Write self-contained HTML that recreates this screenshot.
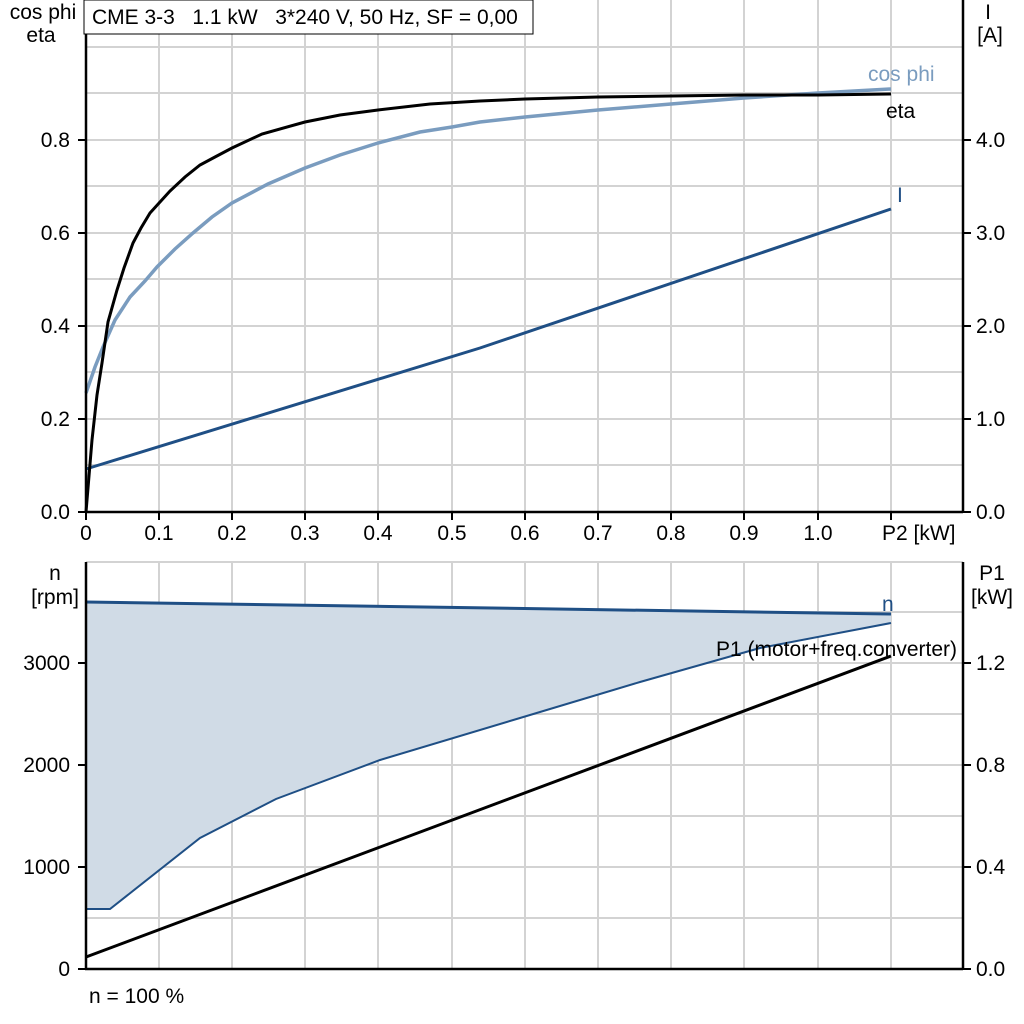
<!DOCTYPE html>
<html><head><style>
body{margin:0;background:#fff}
svg{display:block;font-family:"Liberation Sans",Arial,sans-serif}
</style></head><body>
<svg width="1024" height="1024" viewBox="0 0 1024 1024" xmlns="http://www.w3.org/2000/svg">
<rect width="1024" height="1024" fill="#fff"/>
<g stroke="#d3d3d3" stroke-width="2">
<line x1="159" y1="0" x2="159" y2="512"/><line x1="232" y1="0" x2="232" y2="512"/><line x1="305" y1="0" x2="305" y2="512"/><line x1="378" y1="0" x2="378" y2="512"/><line x1="452" y1="0" x2="452" y2="512"/><line x1="525" y1="0" x2="525" y2="512"/><line x1="598" y1="0" x2="598" y2="512"/><line x1="671" y1="0" x2="671" y2="512"/><line x1="744" y1="0" x2="744" y2="512"/><line x1="818" y1="0" x2="818" y2="512"/><line x1="891" y1="0" x2="891" y2="512"/>
<line x1="86" y1="47" x2="963" y2="47"/><line x1="86" y1="93" x2="963" y2="93"/><line x1="86" y1="140" x2="963" y2="140"/><line x1="86" y1="186" x2="963" y2="186"/><line x1="86" y1="233" x2="963" y2="233"/><line x1="86" y1="279" x2="963" y2="279"/><line x1="86" y1="326" x2="963" y2="326"/><line x1="86" y1="372" x2="963" y2="372"/><line x1="86" y1="419" x2="963" y2="419"/><line x1="86" y1="465" x2="963" y2="465"/>
</g>
<g stroke="#d3d3d3" stroke-width="2">
<line x1="86" y1="562" x2="963" y2="562"/>
<line x1="159" y1="562" x2="159" y2="969"/><line x1="232" y1="562" x2="232" y2="969"/><line x1="305" y1="562" x2="305" y2="969"/><line x1="378" y1="562" x2="378" y2="969"/><line x1="452" y1="562" x2="452" y2="969"/><line x1="525" y1="562" x2="525" y2="969"/><line x1="598" y1="562" x2="598" y2="969"/><line x1="671" y1="562" x2="671" y2="969"/><line x1="744" y1="562" x2="744" y2="969"/><line x1="818" y1="562" x2="818" y2="969"/><line x1="891" y1="562" x2="891" y2="969"/>
<line x1="86" y1="918" x2="963" y2="918"/><line x1="86" y1="867" x2="963" y2="867"/><line x1="86" y1="816" x2="963" y2="816"/><line x1="86" y1="765" x2="963" y2="765"/><line x1="86" y1="714" x2="963" y2="714"/><line x1="86" y1="663" x2="963" y2="663"/><line x1="86" y1="612" x2="963" y2="612"/>
</g>
<polygon points="86,602 891,614 891,623 760,648 640,682 520,718 380,760 276,799 200,838 110,909 86,909" fill="#d0dbe6"/>
<polyline points="86,909 110,909 200,838 276,799 380,760 520,718 640,682 760,648 891,623" fill="none" stroke="#1f4f85" stroke-width="2"/>
<line x1="86" y1="602" x2="891" y2="614" stroke="#1f4f85" stroke-width="3"/>
<line x1="86" y1="957" x2="891" y2="656" stroke="#000" stroke-width="3"/>
<polyline fill="none" stroke="#1f4f85" stroke-width="3" points="86,469 480,348 891,209"/>
<polyline fill="none" stroke="#7a9cbf" stroke-width="3.5" points="86,393 95,367 103,347 115,320 130,297 145,281 157,267 175,249 193,233 212,217 232,203 268,184 305,168 340,155 378,143 420,132 452,127 480,122 525,117 598,110 671,104 744,98 818,93 891,89"/>
<polyline fill="none" stroke="#000" stroke-width="3" points="86,512 92,440 97,395 102,363 108,322 117,290 124,268 133,243 141,228 150,213 160,202 170,191 185,177 200,165 215,157 232,148 262,134 305,122 340,115 378,110 430,104 480,101 525,99 598,97 671,96 744,95 818,95 891,94"/>
<g stroke="#000" stroke-width="2.5" fill="none">
<line x1="86" y1="0" x2="86" y2="513"/><line x1="85" y1="512" x2="963" y2="512"/><line x1="963" y1="0" x2="963" y2="513"/>
<line x1="86" y1="562" x2="86" y2="970"/><line x1="85" y1="969" x2="963" y2="969"/><line x1="963" y1="562" x2="963" y2="970"/>
</g>
<g stroke="#000" stroke-width="2">
<line x1="78" y1="512" x2="86" y2="512"/><line x1="78" y1="419" x2="86" y2="419"/><line x1="78" y1="326" x2="86" y2="326"/><line x1="78" y1="233" x2="86" y2="233"/><line x1="78" y1="140" x2="86" y2="140"/>
<line x1="963" y1="512" x2="971" y2="512"/><line x1="963" y1="419" x2="971" y2="419"/><line x1="963" y1="326" x2="971" y2="326"/><line x1="963" y1="233" x2="971" y2="233"/><line x1="963" y1="140" x2="971" y2="140"/>
<line x1="86" y1="512" x2="86" y2="520"/><line x1="159" y1="512" x2="159" y2="520"/><line x1="232" y1="512" x2="232" y2="520"/><line x1="305" y1="512" x2="305" y2="520"/><line x1="378" y1="512" x2="378" y2="520"/><line x1="452" y1="512" x2="452" y2="520"/><line x1="525" y1="512" x2="525" y2="520"/><line x1="598" y1="512" x2="598" y2="520"/><line x1="671" y1="512" x2="671" y2="520"/><line x1="744" y1="512" x2="744" y2="520"/><line x1="818" y1="512" x2="818" y2="520"/><line x1="891" y1="512" x2="891" y2="520"/>
<line x1="78" y1="969" x2="86" y2="969"/><line x1="78" y1="867" x2="86" y2="867"/><line x1="78" y1="765" x2="86" y2="765"/><line x1="78" y1="663" x2="86" y2="663"/>
<line x1="963" y1="969" x2="971" y2="969"/><line x1="963" y1="867" x2="971" y2="867"/><line x1="963" y1="765" x2="971" y2="765"/><line x1="963" y1="663" x2="971" y2="663"/>
</g>
<rect x="84" y="0" width="449" height="34" fill="#fff" stroke="#000" stroke-width="1"/>
<text x="92" y="24" font-size="21" xml:space="preserve" style="white-space:pre">CME 3-3   1.1 kW   3*240 V, 50 Hz, SF = 0,00</text>
<g font-size="21" fill="#000">
<text x="43" y="19" text-anchor="middle">cos phi</text><text x="41" y="42" text-anchor="middle">eta</text>
<text x="70" y="147" text-anchor="end">0.8</text><text x="70" y="240" text-anchor="end">0.6</text><text x="70" y="333" text-anchor="end">0.4</text><text x="70" y="426" text-anchor="end">0.2</text><text x="70" y="519" text-anchor="end">0.0</text>
<text x="988" y="19" text-anchor="middle">I</text><text x="990" y="42" text-anchor="middle">[A]</text>
<text x="976" y="147">4.0</text><text x="976" y="240">3.0</text><text x="976" y="333">2.0</text><text x="976" y="426">1.0</text><text x="976" y="519">0.0</text>
<text x="86" y="540" text-anchor="middle">0</text><text x="159" y="540" text-anchor="middle">0.1</text><text x="232" y="540" text-anchor="middle">0.2</text><text x="305" y="540" text-anchor="middle">0.3</text><text x="378" y="540" text-anchor="middle">0.4</text><text x="452" y="540" text-anchor="middle">0.5</text><text x="525" y="540" text-anchor="middle">0.6</text><text x="598" y="540" text-anchor="middle">0.7</text><text x="671" y="540" text-anchor="middle">0.8</text><text x="744" y="540" text-anchor="middle">0.9</text><text x="818" y="540" text-anchor="middle">1.0</text><text x="882" y="540">P2 [kW]</text>
<text x="868" y="81" fill="#7a9cbf">cos phi</text><text x="886" y="118">eta</text><text x="897" y="202" fill="#1f4f85">I</text>
<text x="55" y="580" text-anchor="middle">n</text><text x="55" y="604" text-anchor="middle">[rpm]</text>
<text x="70" y="670" text-anchor="end">3000</text><text x="70" y="772" text-anchor="end">2000</text><text x="70" y="874" text-anchor="end">1000</text><text x="70" y="976" text-anchor="end">0</text>
<text x="992" y="580" text-anchor="middle">P1</text><text x="992" y="604" text-anchor="middle">[kW]</text>
<text x="976" y="670">1.2</text><text x="976" y="772">0.8</text><text x="976" y="874">0.4</text><text x="976" y="976">0.0</text>
<text x="882" y="611" fill="#1f4f85">n</text>
<text x="716" y="656">P1 (motor+freq.converter)</text>
<text x="89" y="1003">n = 100 %</text>
</g>
</svg>
</body></html>
